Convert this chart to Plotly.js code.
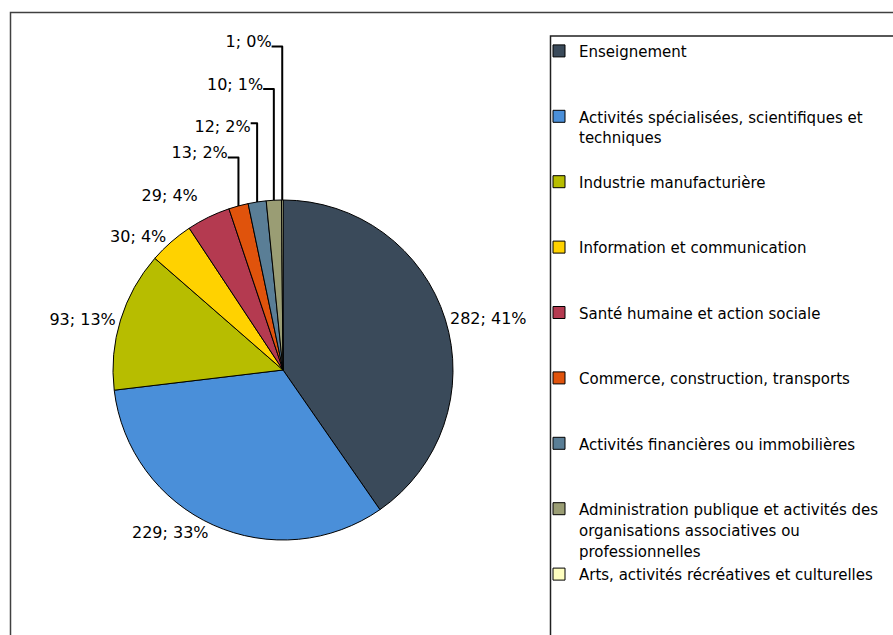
<!DOCTYPE html>
<html>
<head>
<meta charset="utf-8">
<script src="https://cdn.plot.ly/plotly-3.0.1.min.js"></script>
<style>
html,body{margin:0;padding:0;background:#fff;}
#chart{width:893px;height:635px;}
</style>
</head>
<body>
<div id="chart"></div>
<script>
// Data
var sectors = [
  "Enseignement",
  "Activités spécialisées, scientifiques et<br>techniques",
  "Industrie manufacturière",
  "Information et communication",
  "Santé humaine et action sociale",
  "Commerce, construction, transports",
  "Activités financières ou immobilières",
  "Administration publique et activités des<br>organisations associatives ou<br>professionnelles",
  "Arts, activités récréatives et culturelles"
];
var counts = [282, 229, 93, 30, 29, 13, 12, 10, 1];
var percentLabels = [41, 33, 13, 4, 4, 2, 2, 1, 0];
var colors = ["#3a4a5a", "#4a8fd9", "#b7bd00", "#ffd200", "#b43a50", "#e0530c", "#5a7e96", "#9a9d74", "#ffffc0"];

// Legend entries: text drawn at 15px, padded to three lines (line pitch of the
// 16px legend font) so entries are evenly spaced like the reference
var legendLabels = sectors.map(function (s) {
  var lines = s.split("<br>").map(function (l) {
    return "<span style='font-size:15px'>" + l + "</span>";
  });
  while (lines.length < 3) lines.push(" ");
  return lines.join("<br>");
});

// Slice labels "value; pct%". The small slices at the top get invisible
// padding lines so Plotly's stacked labels are spread out like the reference.
var pad = "<span style='font-size:1px'>&nbsp;</span>";
function padLabel(t, i) {
  if (i < 4) return t;
  if (i === 6) return pad + "<br>" + t;          // two-line box
  return pad + "<br>" + t + "<br>" + pad;         // three-line box
}
var sliceText = counts.map(function (c, i) {
  return padLabel(c + "; " + percentLabels[i] + "%", i);
});

var FONT = "DejaVu Sans, Verdana, sans-serif";
var W = 893, H = 635;

var trace = {
  type: "pie",
  labels: legendLabels,
  values: counts,
  text: sliceText,
  texttemplate: "%{text}",
  textposition: "outside",
  sort: false,
  direction: "clockwise",
  rotation: 0,
  marker: { colors: colors, line: { color: "#000000", width: 1 } },
  outsidetextfont: { family: FONT, size: 16, color: "#000000" },
  hoverinfo: "none",
  domain: { x: [113 / W, 453 / W], y: [(H - 540) / H, (H - 200) / H] },
  automargin: false
};

var layout = {
  width: W,
  height: H,
  margin: { l: 0, r: 0, t: 0, b: 0, autoexpand: false },
  paper_bgcolor: "#ffffff",
  font: { family: FONT, size: 16, color: "#000000" },
  showlegend: true,
  legend: {
    x: 539 / W,
    xanchor: "left",
    y: 1 - 34 / H,
    yanchor: "top",
    valign: "top",
    bgcolor: "rgba(0,0,0,0)",
    borderwidth: 0,
    font: { family: FONT, size: 16, color: "#000000" },
    traceorder: "normal"
  },
  shapes: [
    { type: "rect", xref: "paper", yref: "paper", x0: 10.5 / W, x1: 1.05, y0: -0.05, y1: 1 - 12.5 / H,
      line: { color: "#404040", width: 1.5 }, fillcolor: "rgba(0,0,0,0)", layer: "below" },
    { type: "rect", xref: "paper", yref: "paper", x0: 550.5 / W, x1: 1.05, y0: -0.05, y1: 1 - 36 / H,
      line: { color: "#202020", width: 1.5 }, fillcolor: "rgba(0,0,0,0)", layer: "below" }
  ]
};

Plotly.newPlot("chart", [trace], layout, { displayModeBar: false, staticPlot: true });
</script>
</body>
</html>
